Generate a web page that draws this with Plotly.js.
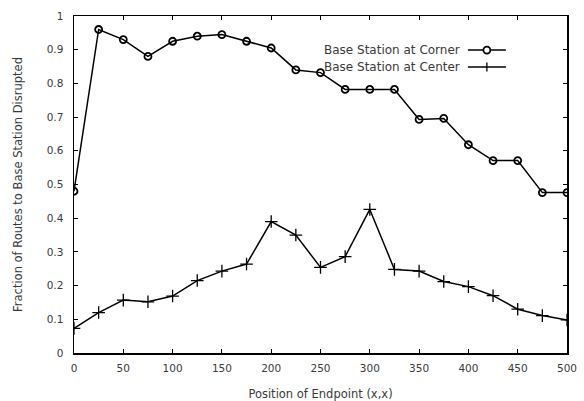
<!DOCTYPE html>
<html><head><meta charset="utf-8">
<script src="https://cdn.plot.ly/plotly-3.0.1.min.js"></script>
<style>html,body{margin:0;padding:0;background:#fff}#chart{width:584px;height:401px}</style>
</head><body><div id="chart"></div>
<script>
var positions = [0,25,50,75,100,125,150,175,200,225,250,275,300,325,350,375,400,425,450,475,500];
var cornerValues = [0.48,0.96,0.93,0.88,0.925,0.94,0.945,0.925,0.905,0.84,0.832,0.782,0.782,0.782,0.693,0.696,0.618,0.571,0.571,0.476,0.476];
var centerValues = [0.073,0.12,0.157,0.152,0.169,0.215,0.243,0.264,0.39,0.35,0.254,0.286,0.426,0.248,0.243,0.212,0.197,0.17,0.13,0.111,0.098];
var seriesNames = ["Base Station at Corner","Base Station at Center"];
var xTicks = [0,50,100,150,200,250,300,350,400,450,500];
var yTicks = [0,0.1,0.2,0.3,0.4,0.5,0.6,0.7,0.8,0.9,1];
var yTickText = ["0","0.1","0.2","0.3","0.4","0.5","0.6","0.7","0.8","0.9","1"];

var tickFont = {family:"DejaVu Sans, Verdana, sans-serif", size:10.5, color:"#3a3a3a"};
var titleFont = {family:"DejaVu Sans, Verdana, sans-serif", size:11.5, color:"#3a3a3a"};
var legendFont = {family:"DejaVu Sans, Verdana, sans-serif", size:12, color:"#3a3a3a"};
var traces = [
  {x:positions, y:cornerValues, name:seriesNames[0], mode:"lines+markers", type:"scatter",
   line:{color:"#000", width:1.5}, marker:{symbol:"circle-open", size:7, color:"#000", line:{width:1.8}}},
  {x:positions, y:centerValues, name:seriesNames[1], mode:"lines+markers", type:"scatter",
   line:{color:"#000", width:1.5}, marker:{symbol:"cross-thin-open", size:9, color:"#000", line:{width:1.3}}}
];
var axisCommon = {showgrid:false, zeroline:false, showline:true, linecolor:"#000", linewidth:1.5,
  mirror:"ticks", ticks:"inside", ticklen:4, tickcolor:"#000", tickwidth:1, tickfont:tickFont};
var lx0 = 0.799, lx1 = 0.876, lxm = 0.8375, ly1 = 0.899, ly2 = 0.849;
var layout = {
  width:584, height:401, margin:{l:74, r:17, t:16, b:48},
  paper_bgcolor:"#fff", plot_bgcolor:"#fff", showlegend:false, font:tickFont,
  xaxis:Object.assign({}, axisCommon, {range:[0,500], tickvals:xTicks, ticklabelstandoff:5,
    title:{text:"Position of Endpoint (x,x)", font:titleFont, standoff:17}}),
  yaxis:Object.assign({}, axisCommon, {range:[0,1], tickvals:yTicks, ticktext:yTickText, ticklabelstandoff:7,
    title:{text:"Fraction of Routes to Base Station Disrupted", font:titleFont, standoff:21}}),
  annotations:[
    {xref:"paper", yref:"paper", x:0.787, y:ly1, xanchor:"right", yanchor:"middle", text:seriesNames[0], showarrow:false, font:legendFont},
    {xref:"paper", yref:"paper", x:0.787, y:ly2, xanchor:"right", yanchor:"middle", text:seriesNames[1], showarrow:false, font:legendFont}
  ],
  shapes:[
    {type:"line", xref:"paper", yref:"paper", x0:lx0, x1:lx1, y0:ly1, y1:ly1, line:{color:"#000", width:1.5}},
    {type:"line", xref:"paper", yref:"paper", x0:lx0, x1:lx1, y0:ly2, y1:ly2, line:{color:"#000", width:1.5}},
    {type:"circle", xref:"paper", yref:"paper", xsizemode:"pixel", ysizemode:"pixel", xanchor:lxm, yanchor:ly1,
     x0:-3.5, x1:3.5, y0:-3.5, y1:3.5, line:{color:"#000", width:1.8}, fillcolor:"#fff"},
    {type:"line", xref:"paper", yref:"paper", xsizemode:"pixel", ysizemode:"pixel", xanchor:lxm, yanchor:ly2,
     x0:0, x1:0, y0:-4.5, y1:4.5, line:{color:"#000", width:1.3}}
  ]
};
Plotly.newPlot("chart", traces, layout, {displayModeBar:false, staticPlot:true});
</script></body></html>
